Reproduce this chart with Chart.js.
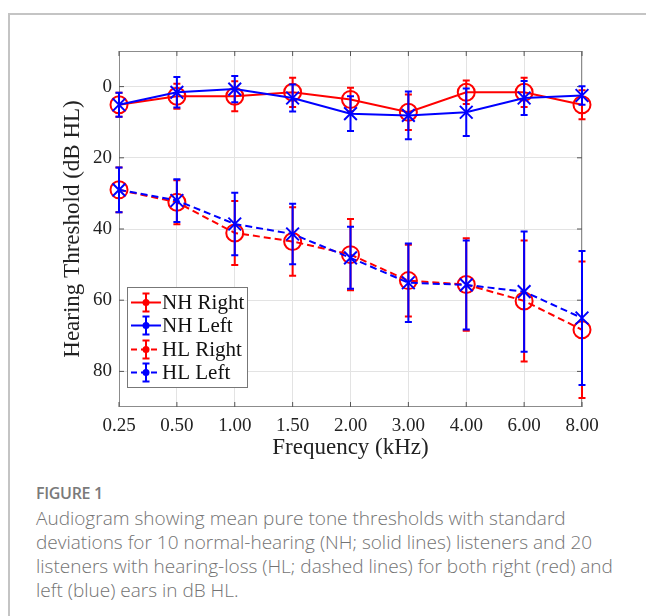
<!DOCTYPE html>
<html>
<head>
<meta charset="utf-8">
<script src="https://cdn.jsdelivr.net/npm/chart.js@4.4.0/dist/chart.umd.min.js"></script>
<style>
  html, body { margin: 0; padding: 0; background: #fff; }
  body { width: 646px; height: 616px; position: relative; overflow: hidden; }
  .frame {
    position: absolute; left: 8px; top: 13px; width: 660px; height: 620px;
    border-top: 2px solid #c4c4c4; border-left: 2px solid #c4c4c4;
  }
  #wrap { position: absolute; left: 0; top: 0; width: 646px; height: 470px; }
  .fig-label {
    position: absolute; left: 36px; top: 482px;
    font-family: "Open Sans", "Noto Sans", sans-serif; font-weight: 600;
    font-size: 16px; color: #7a7a7a; letter-spacing: -0.3px;
  }
  .caption {
    position: absolute; left: 36px; top: 506px; white-space: nowrap;
    font-family: "Open Sans", "Noto Sans", sans-serif; font-weight: 300;
    font-size: 19px; line-height: 24px; color: #737373;
  }
</style>
</head>
<body>
<div class="frame"></div>
<div id="wrap"><canvas id="chart" width="646" height="470"></canvas></div>
<div class="fig-label">FIGURE 1</div>
<div class="caption">Audiogram showing mean pure tone thresholds with standard<br>deviations for 10 normal-hearing (NH; solid lines) listeners and 20<br>listeners with hearing-loss (HL; dashed lines) for both right (red) and<br>left (blue) ears in dB HL.</div>

<script>
const freqLabels = ["0.25", "0.50", "1.00", "1.50", "2.00", "3.00", "4.00", "6.00", "8.00"];
const yTicks = [0, 20, 40, 60, 80];

// mean thresholds (dB HL) and standard deviations
const nhRight   = [5.1, 2.7, 2.7, 1.6, 3.6, 7.2, 1.6, 1.6, 5.1];
const nhRightSd = [3.4, 3.5, 4.2, 4.1, 3.3, 5.0, 3.3, 4.1, 4.1];
const nhLeft    = [5.1, 1.6, 0.7, 3.2, 7.6, 8.1, 7.2, 3.2, 2.5];
const nhLeftSd  = [3.4, 4.3, 3.7, 3.8, 4.9, 6.7, 6.7, 4.8, 2.6];
const hlRight   = [29.0, 32.5, 41.1, 43.5, 47.2, 54.5, 55.6, 60.2, 68.3];
const hlRightSd = [6.3, 6.2, 9.0, 9.6, 10.0, 10.1, 13.0, 17.0, 19.2];
const hlLeft    = [29.0, 32.0, 38.6, 41.4, 48.1, 55.1, 55.7, 57.6, 65.0];
const hlLeftSd  = [6.3, 6.0, 8.8, 8.5, 8.7, 11.0, 12.5, 16.9, 18.8];

const RED = "#ff0000";
const BLUE = "#0000ff";
const SERIF = "'Liberation Serif', 'Times New Roman', serif";

function series(label, data, errors, color, dashed, style, order) {
    return {
        label, data, errors,
        borderColor: color,
        backgroundColor: "rgba(0,0,0,0)",
        borderWidth: 2,
        borderDash: dashed ? [7, 4] : [],
        pointStyle: style,
        pointRadius: style === "circle" ? 8.5 : 9,
        pointBorderColor: color,
        pointBorderWidth: 2,
        pointBackgroundColor: "rgba(0,0,0,0)",
        tension: 0,
        clip: false,
        order,
    };
}

// vertical error bars with caps, drawn from the y scale
const errorBars = {
    id: "errorBars",
    afterDatasetDraw(chart, args) {
        const ds = chart.data.datasets[args.index];
        if (!ds.errors) return;
        const y = chart.scales.y;
        const ctx = chart.ctx;
        ctx.save();
        ctx.strokeStyle = ds.borderColor;
        ctx.lineWidth = 2;
        ctx.setLineDash([]);
        args.meta.data.forEach((pt, i) => {
            const top = y.getPixelForValue(ds.data[i] - ds.errors[i]);
            const bot = y.getPixelForValue(ds.data[i] + ds.errors[i]);
            ctx.beginPath();
            ctx.moveTo(pt.x, top); ctx.lineTo(pt.x, bot);
            ctx.moveTo(pt.x - 3.5, top); ctx.lineTo(pt.x + 3.5, top);
            ctx.moveTo(pt.x - 3.5, bot); ctx.lineTo(pt.x + 3.5, bot);
            ctx.stroke();
        });
        ctx.restore();
    },
};

// MATLAB style box with inward ticks
const axisBox = {
    id: "axisBox",
    beforeDatasetsDraw(chart) {
        const { ctx, chartArea: a, scales } = chart;
        ctx.save();
        ctx.strokeStyle = "#8c8c8c";
        ctx.lineWidth = 1;
        ctx.strokeRect(a.left + 0.5, a.top + 0.5, a.right - a.left - 1, a.bottom - a.top - 1);
        ctx.strokeStyle = "#555";
        ctx.beginPath();
        scales.x.ticks.forEach((t, i) => {
            const px = scales.x.getPixelForTick(i);
            ctx.moveTo(px, a.top); ctx.lineTo(px, a.top + 5);
            ctx.moveTo(px, a.bottom); ctx.lineTo(px, a.bottom - 5);
        });
        yTicks.forEach(v => {
            const py = scales.y.getPixelForValue(v);
            ctx.moveTo(a.left, py); ctx.lineTo(a.left + 5, py);
            ctx.moveTo(a.right, py); ctx.lineTo(a.right - 5, py);
        });
        ctx.stroke();
        ctx.restore();
    },
};

// legend box inside the plot, lower left
const boxLegend = {
    id: "boxLegend",
    afterDraw(chart) {
        const ctx = chart.ctx;
        const bx = 127.5, by = 287.5, bw = 120, bh = 100;
        ctx.save();
        ctx.fillStyle = "#fff";
        ctx.fillRect(bx, by, bw, bh);
        ctx.strokeStyle = "#777";
        ctx.lineWidth = 1;
        ctx.strokeRect(bx, by, bw, bh);
        const rowY = [302.5, 325.5, 349.5, 372.5];
        chart.data.datasets.forEach((ds, r) => {
            const cy = rowY[r];
            const x0 = 131, x1 = 161, cx = (x0 + x1) / 2;
            ctx.strokeStyle = ds.borderColor;
            ctx.lineWidth = 2;
            ctx.setLineDash(ds.borderDash.length ? [6, 4] : []);
            ctx.beginPath();
            ctx.moveTo(x0, cy); ctx.lineTo(x1, cy);
            ctx.stroke();
            ctx.setLineDash([]);
            ctx.beginPath();
            ctx.moveTo(cx, cy - 9); ctx.lineTo(cx, cy + 9);
            ctx.moveTo(cx - 3.5, cy - 9); ctx.lineTo(cx + 3.5, cy - 9);
            ctx.moveTo(cx - 3.5, cy + 9); ctx.lineTo(cx + 3.5, cy + 9);
            ctx.stroke();
            ctx.fillStyle = ds.borderColor;
            ctx.beginPath();
            ctx.arc(cx, cy, 3.5, 0, Math.PI * 2);
            ctx.fill();
            ctx.fillStyle = "#111";
            ctx.font = "21px " + SERIF;
            ctx.textBaseline = "middle";
            ctx.textAlign = "left";
            ctx.fillText(ds.label, 162, cy + 1);
        });
        ctx.restore();
    },
};

new Chart(document.getElementById("chart"), {
    type: "line",
    data: {
        labels: freqLabels,
        datasets: [
            series("NH Right", nhRight, nhRightSd, RED, false, "circle", 4),
            series("NH Left", nhLeft, nhLeftSd, BLUE, false, "crossRot", 3),
            series("HL Right", hlRight, hlRightSd, RED, true, "circle", 2),
            series("HL Left", hlLeft, hlLeftSd, BLUE, true, "crossRot", 1),
        ],
    },
    options: {
        responsive: false,
        animation: false,
        layout: { padding: { left: 0, top: 51, right: 64, bottom: 3 } },
        plugins: {
            legend: { display: false },
            tooltip: { enabled: false },
        },
        scales: {
            x: {
                type: "category",
                offset: false,
                grid: { color: "#e3e3e3", drawTicks: false },
                border: { display: false },
                ticks: { color: "#222", padding: 8, font: { family: SERIF, size: 19 }, maxRotation: 0 },
                title: {
                    display: true, text: "Frequency (kHz)", color: "#222",
                    font: { family: SERIF, size: 23 }, padding: { top: 0, bottom: 5 },
                },
                afterFit: (s) => { s.height = 60; },
            },
            y: {
                reverse: true,
                min: -10,
                max: 90,
                afterBuildTicks: (s) => { s.ticks = yTicks.map(v => ({ value: v })); },
                grid: { color: "#e3e3e3", drawTicks: false },
                border: { display: false },
                ticks: { color: "#222", padding: 7, font: { family: SERIF, size: 19 } },
                title: {
                    display: true, text: "Hearing Threshold (dB HL)", color: "#222",
                    font: { family: SERIF, size: 23 }, padding: { top: 59, bottom: 0 },
                },
                afterFit: (s) => { s.width = 119; },
            },
        },
    },
    plugins: [errorBars, axisBox, boxLegend],
});
</script>
</body>
</html>
